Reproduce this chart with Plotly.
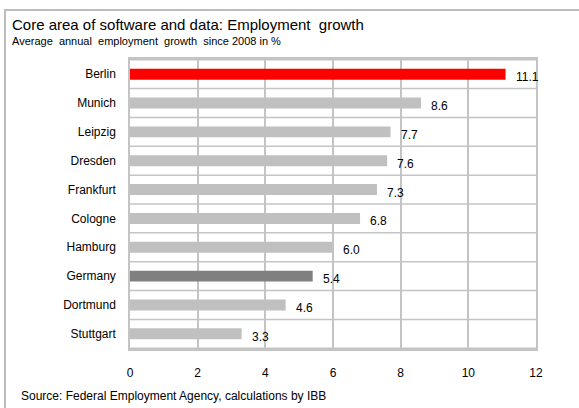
import plotly.graph_objects as go

# Average annual employment growth since 2008, in %
cities = ["Berlin", "Munich", "Leipzig", "Dresden", "Frankfurt",
          "Cologne", "Hamburg", "Germany", "Dortmund", "Stuttgart"]
growth = [11.1, 8.6, 7.7, 7.6, 7.3, 6.8, 6.0, 5.4, 4.6, 3.3]
bar_colors = ["#FF0000", "#C0C0C0", "#C0C0C0", "#C0C0C0", "#C0C0C0",
              "#C0C0C0", "#C0C0C0", "#808080", "#C0C0C0", "#C0C0C0"]
x_ticks = [0, 2, 4, 6, 8, 10, 12]

W, H = 579, 408
L, R, T, B = 130, 43, 59, 59
PW, PH = W - L - R, H - T - B
FONT = "Liberation Sans, Arial, sans-serif"
GRID = "#C4C4C4"


def px_x(px):
    return (px - L) / PW


def px_y(py):
    return 1 - (py - T) / PH


fig = go.Figure(go.Bar(
    x=growth, y=cities, orientation="h",
    marker=dict(color=bar_colors, line=dict(width=0)),
    width=0.38, hoverinfo="skip",
))

# separators between the category rows
for i in range(len(cities) + 1):
    fig.add_shape(type="line", xref="x domain", yref="y",
                  x0=0, x1=1, y0=i - 0.5, y1=i - 0.5, layer="below",
                  line=dict(color=GRID, width=1.5))

# value labels to the right of each bar
for c, v in zip(cities, growth):
    fig.add_annotation(x=v, y=c, xref="x", yref="y", text=f"{v:.1f}",
                       showarrow=False, xanchor="left", yanchor="middle",
                       xshift=8, yshift=-3,
                       font=dict(family=FONT, size=12, color="#000"))

fig.add_annotation(x=px_x(10), y=px_y(24), xref="paper", yref="paper",
                   text="Core area of software and data: Employment\u00a0 growth",
                   showarrow=False, xanchor="left", yanchor="middle",
                   font=dict(family=FONT, size=15, color="#000"))
fig.add_annotation(x=px_x(10), y=px_y(41), xref="paper", yref="paper",
                   text="Average\u00a0 annual\u00a0 employment\u00a0 growth\u00a0 since 2008 in %",
                   showarrow=False, xanchor="left", yanchor="middle",
                   font=dict(family=FONT, size=11, color="#000"))
fig.add_annotation(x=px_x(19), y=px_y(396), xref="paper", yref="paper",
                   text="Source: Federal Employment Agency, calculations by IBB",
                   showarrow=False, xanchor="left", yanchor="middle",
                   font=dict(family=FONT, size=12, color="#000"))

# outer frame (left and top edges)
fig.add_shape(type="path", xref="paper", yref="paper",
              path=f"M {px_x(5)},{px_y(420)} L {px_x(5)},{px_y(10)} L {px_x(600)},{px_y(10)}",
              line=dict(color="#BDBDBD", width=2))

fig.update_layout(
    width=W, height=H,
    margin=dict(l=L, r=R, t=T, b=B, pad=0),
    paper_bgcolor="white", plot_bgcolor="white",
    showlegend=False, bargap=0.6,
    font=dict(family=FONT, size=12, color="#000"),
    xaxis=dict(range=[0, 12], tickmode="array", tickvals=x_ticks,
               showgrid=True, gridcolor=GRID, gridwidth=1.5,
               zeroline=False,
               showline=True, linecolor=GRID, linewidth=1.5, mirror=True,
               ticks="", ticklabelstandoff=12,
               tickfont=dict(family=FONT, size=12, color="#000"),
               fixedrange=True),
    yaxis=dict(type="category", categoryorder="array",
               categoryarray=cities, autorange="reversed",
               showgrid=False, showline=True, linecolor=GRID,
               linewidth=1.5, mirror=True, ticks="", ticklabelstandoff=10,
               tickfont=dict(family=FONT, size=12, color="#000"),
               fixedrange=True),
)

fig.write_html("out.html")
